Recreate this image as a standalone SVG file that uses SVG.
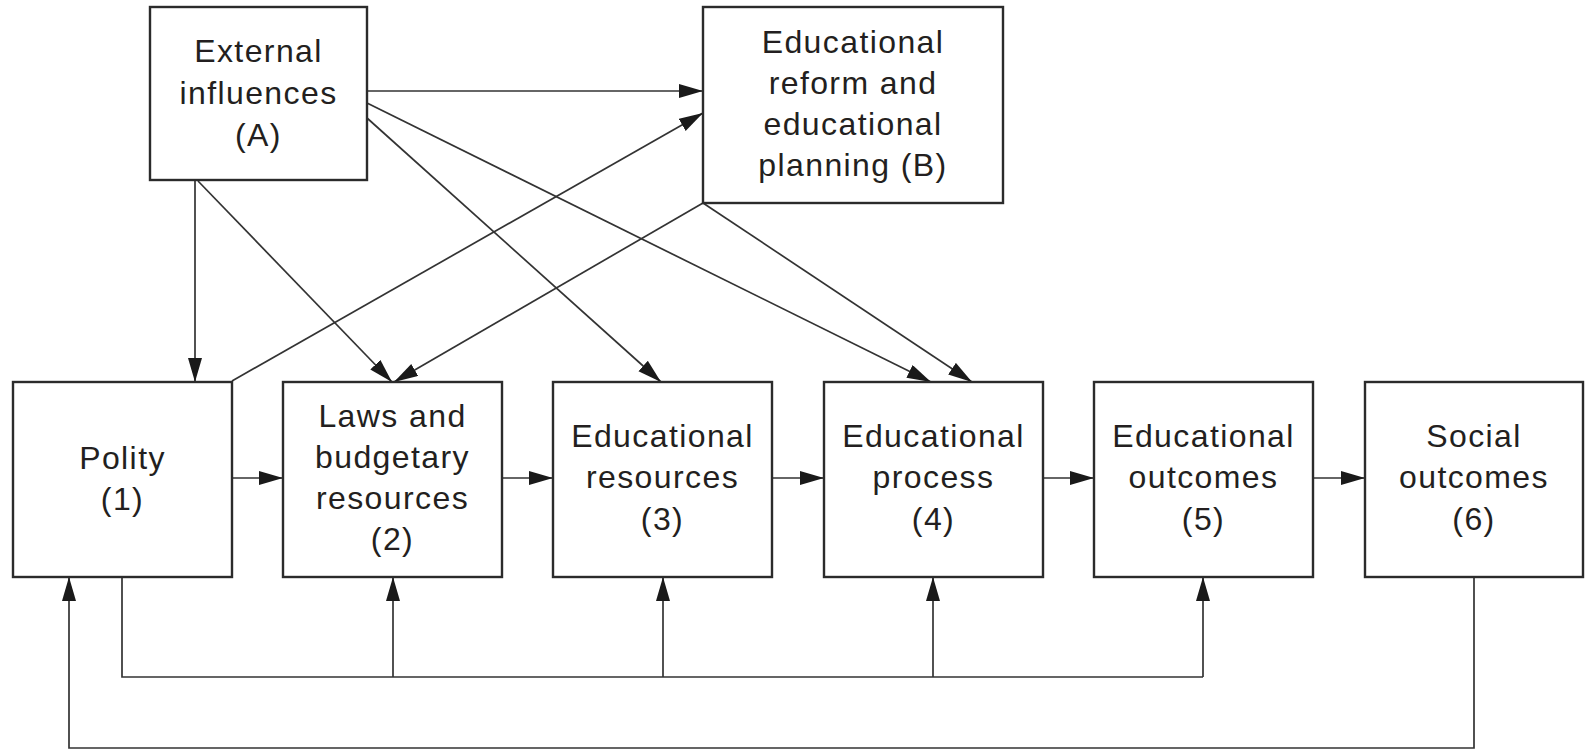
<svg xmlns="http://www.w3.org/2000/svg" width="1589" height="750" viewBox="0 0 1589 750">
  <style>
    .box { fill: #ffffff; stroke: #2b2b2b; stroke-width: 2.4; }
    .lbl { font-family: "Liberation Sans", Arial, Helvetica, sans-serif; font-size: 32px; letter-spacing: 1.4px; fill: #231f20; text-anchor: middle; }
    .edge { fill: none; stroke: #333333; stroke-width: 1.7; }
  </style>
  <defs>
    <marker id="arrow" markerUnits="userSpaceOnUse" markerWidth="26" markerHeight="16" refX="24" refY="7" orient="auto">
      <path d="M0,0 L24,7 L0,14 z" fill="#1a1a1a"/>
    </marker>
  </defs>
  <rect width="1589" height="750" fill="#ffffff"/>

  <!-- connectors -->
  <g id="connectors">
    <!-- main chain -->
    <line class="edge" x1="232" y1="478" x2="283" y2="478" marker-end="url(#arrow)"/>
    <line class="edge" x1="502" y1="478" x2="553" y2="478" marker-end="url(#arrow)"/>
    <line class="edge" x1="772" y1="478" x2="824" y2="478" marker-end="url(#arrow)"/>
    <line class="edge" x1="1043" y1="478" x2="1094" y2="478" marker-end="url(#arrow)"/>
    <line class="edge" x1="1313" y1="478" x2="1365" y2="478" marker-end="url(#arrow)"/>
    <!-- external influences -->
    <line class="edge" x1="195" y1="180" x2="195" y2="382" marker-end="url(#arrow)"/>
    <line class="edge" x1="198" y1="181" x2="392" y2="382" marker-end="url(#arrow)"/>
    <line class="edge" x1="367" y1="91" x2="703" y2="91" marker-end="url(#arrow)"/>
    <line class="edge" x1="367" y1="103" x2="931" y2="382" marker-end="url(#arrow)"/>
    <line class="edge" x1="367" y1="118" x2="661" y2="382" marker-end="url(#arrow)"/>
    <!-- polity to reform -->
    <line class="edge" x1="232" y1="381" x2="703" y2="113" marker-end="url(#arrow)"/>
    <!-- reform and planning -->
    <line class="edge" x1="703" y1="203" x2="394" y2="382" marker-end="url(#arrow)"/>
    <line class="edge" x1="703" y1="203" x2="972" y2="382" marker-end="url(#arrow)"/>
    <!-- feedback from polity -->
    <polyline class="edge" points="122,577 122,677 1203,677"/>
    <line class="edge" x1="393" y1="677" x2="393" y2="577" marker-end="url(#arrow)"/>
    <line class="edge" x1="663" y1="677" x2="663" y2="577" marker-end="url(#arrow)"/>
    <line class="edge" x1="933" y1="677" x2="933" y2="577" marker-end="url(#arrow)"/>
    <line class="edge" x1="1203" y1="677" x2="1203" y2="577" marker-end="url(#arrow)"/>
    <!-- social outcomes back to polity -->
    <polyline class="edge" points="1474,577 1474,748 69,748 69,577" marker-end="url(#arrow)"/>
  </g>

  <g id="nodeA">
    <rect class="box" x="150" y="7" width="217" height="173"/>
    <text class="lbl" x="258.5" y="62">External</text>
    <text class="lbl" x="258.5" y="104">influences</text>
    <text class="lbl" x="258.5" y="146">(A)</text>
  </g>

  <g id="nodeB">
    <rect class="box" x="703" y="7" width="300" height="196"/>
    <text class="lbl" x="853" y="53">Educational</text>
    <text class="lbl" x="853" y="94">reform and</text>
    <text class="lbl" x="853" y="135">educational</text>
    <text class="lbl" x="853" y="176">planning (B)</text>
  </g>

  <g id="node1">
    <rect class="box" x="13" y="382" width="219" height="195"/>
    <text class="lbl" x="122.5" y="469">Polity</text>
    <text class="lbl" x="122.5" y="510">(1)</text>
  </g>

  <g id="node2">
    <rect class="box" x="283" y="382" width="219" height="195"/>
    <text class="lbl" x="392.5" y="427">Laws and</text>
    <text class="lbl" x="392.5" y="468">budgetary</text>
    <text class="lbl" x="392.5" y="509">resources</text>
    <text class="lbl" x="392.5" y="550">(2)</text>
  </g>

  <g id="node3">
    <rect class="box" x="553" y="382" width="219" height="195"/>
    <text class="lbl" x="662.5" y="447">Educational</text>
    <text class="lbl" x="662.5" y="488">resources</text>
    <text class="lbl" x="662.5" y="530">(3)</text>
  </g>

  <g id="node4">
    <rect class="box" x="824" y="382" width="219" height="195"/>
    <text class="lbl" x="933.5" y="447">Educational</text>
    <text class="lbl" x="933.5" y="488">process</text>
    <text class="lbl" x="933.5" y="530">(4)</text>
  </g>

  <g id="node5">
    <rect class="box" x="1094" y="382" width="219" height="195"/>
    <text class="lbl" x="1203.5" y="447">Educational</text>
    <text class="lbl" x="1203.5" y="488">outcomes</text>
    <text class="lbl" x="1203.5" y="530">(5)</text>
  </g>

  <g id="node6">
    <rect class="box" x="1365" y="382" width="218" height="195"/>
    <text class="lbl" x="1474" y="447">Social</text>
    <text class="lbl" x="1474" y="488">outcomes</text>
    <text class="lbl" x="1474" y="530">(6)</text>
  </g>
</svg>
